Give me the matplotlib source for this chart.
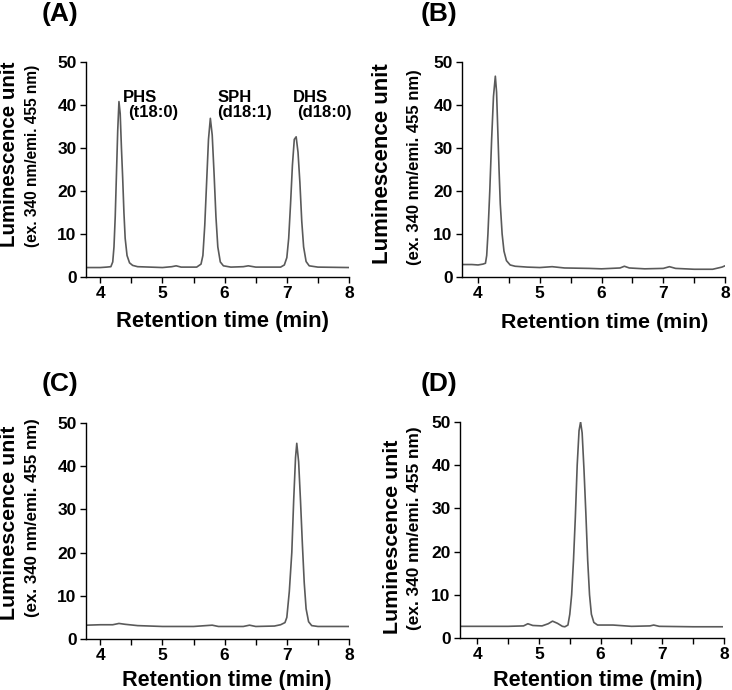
import numpy as np
import matplotlib
matplotlib.use('Agg')
import matplotlib.pyplot as plt
from matplotlib.ticker import MultipleLocator

plt.rcParams['font.family'] = ['Liberation Sans', 'DejaVu Sans']
plt.rcParams['font.weight'] = 'bold'

# chromatogram traces (retention time in min, luminescence)
time_a = [3.80, 4.00, 4.10, 4.17, 4.20, 4.22, 4.24, 4.26, 4.28, 4.30, 4.32, 4.34, 4.36, 4.38,
          4.40, 4.43, 4.47, 4.52, 4.60, 4.80, 5.00, 5.15, 5.22, 5.30, 5.55, 5.62, 5.65, 5.68,
          5.71, 5.74, 5.77, 5.80, 5.83, 5.86, 5.89, 5.93, 5.98, 6.10, 6.30, 6.38, 6.50, 6.90,
          6.96, 7.00, 7.03, 7.06, 7.09, 7.12, 7.15, 7.18, 7.21, 7.24, 7.27, 7.31, 7.36, 7.50, 8.00]
signal_a = [2.2, 2.2, 2.3, 2.4, 3.5, 7, 14, 24, 34, 40.8, 38, 30, 23, 15,
            9, 5, 3.3, 2.7, 2.4, 2.3, 2.2, 2.4, 2.6, 2.3, 2.3, 3.0, 5, 12,
            22, 32, 36.9, 33, 24, 14, 7, 3.5, 2.6, 2.3, 2.4, 2.6, 2.3, 2.3,
            2.8, 4.5, 9, 17, 26, 32, 32.6, 29, 22, 13, 7, 3.6, 2.6, 2.3, 2.2]

time_b = [3.74, 3.90, 4.00, 4.08, 4.12, 4.14, 4.16, 4.19, 4.22, 4.25, 4.28, 4.30, 4.32, 4.34,
          4.36, 4.39, 4.42, 4.46, 4.52, 4.60, 4.80, 5.00, 5.20, 5.40, 5.80, 6.00, 6.30, 6.37,
          6.45, 6.70, 7.00, 7.10, 7.20, 7.50, 7.80, 7.95, 8.00]
signal_b = [2.9, 2.9, 2.8, 3.0, 3.2, 5, 10, 20, 32, 42, 46.7, 43, 34, 25,
            17, 10, 6, 3.8, 2.8, 2.5, 2.3, 2.2, 2.4, 2.1, 2.0, 1.9, 2.1, 2.5,
            2.1, 1.9, 2.0, 2.4, 2.0, 1.8, 1.8, 2.3, 2.6]

time_c = [3.78, 4.00, 4.20, 4.30, 4.40, 4.60, 4.80, 5.00, 5.50, 5.80, 5.90, 6.30, 6.40, 6.50,
          6.80, 6.90, 6.97, 7.00, 7.04, 7.08, 7.11, 7.14, 7.16, 7.19, 7.22, 7.25, 7.28, 7.31,
          7.35, 7.40, 7.50, 8.00]
signal_c = [3.2, 3.3, 3.3, 3.6, 3.4, 3.1, 3.0, 2.9, 2.9, 3.2, 2.9, 2.9, 3.2, 2.9,
            3.0, 3.3, 3.8, 5, 11, 20, 32, 42, 45.3, 41, 32, 22, 13, 7,
            4, 3.1, 2.9, 2.9]

time_d = [3.72, 4.00, 4.50, 4.75, 4.82, 4.90, 5.05, 5.15, 5.22, 5.30, 5.38, 5.42, 5.47, 5.50,
          5.53, 5.56, 5.59, 5.62, 5.65, 5.675, 5.70, 5.73, 5.76, 5.79, 5.82, 5.85, 5.89, 5.95,
          6.20, 6.50, 6.80, 6.86, 6.95, 7.50, 7.97]
signal_d = [2.7, 2.7, 2.7, 2.8, 3.3, 2.9, 2.8, 3.3, 3.9, 3.4, 2.7, 2.6, 3.0, 5.5,
            10, 18, 28, 40, 48, 50, 47.5, 39, 29, 18, 10, 5.5, 3.6, 3.0,
            3.0, 2.7, 2.8, 3.0, 2.7, 2.6, 2.6]

panel_names = ['(A)', '(B)', '(C)', '(D)']
peak_names = ['PHS', 'SPH', 'DHS']
peak_species = ['(t18:0)', '(d18:1)', '(d18:0)']
peak_label_pos = [(4.36, 43.5), (5.88, 43.5), (7.10, 43.5)]
species_label_pos = [(4.44, 40.0), (5.88, 40.0), (7.17, 40.0)]

traces = [(time_a, signal_a), (time_b, signal_b), (time_c, signal_c), (time_d, signal_d)]

W, H = 732, 690
fig = plt.figure(figsize=(W / 100, H / 100), dpi=100)

# axes boxes in pixels: left, right, top, bottom, x start
boxes = [(86, 349, 62, 277, 3.77),
         (462, 725, 62, 277, 3.74),
         (86, 349, 423, 639, 3.77),
         (460, 724, 422, 638, 3.72)]
# label placement in pixels: letter (x, y), ylabel line1 (x, y, size), line2 (x, y, size), xlabel (x, baseline, size)
label_layout = [((60, 14), (10, 154, 14.8), (33, 156, 11.2), (223, 327, 15.8)),
                ((439, 14), (382, 164, 16.0), (414, 167, 12.0), (605, 328, 15.4)),
                ((60, 384), (10, 523, 15.4), (33, 518, 12.2), (227, 686, 15.6)),
                ((439, 384), (392, 537, 15.4), (415, 528, 12.4), (598, 686, 15.6))]

for i, (t, s) in enumerate(traces):
    left, right, top, bottom, x0 = boxes[i]
    ax = fig.add_axes([left / W, 1 - bottom / H, (right - left) / W, (bottom - top) / H])
    ax.plot(t, s, color='#5a5a5a', lw=1.2)
    ax.set_xlim(x0, 8.0)
    ax.set_ylim(0, 50)
    ax.spines['top'].set_visible(False)
    ax.spines['right'].set_visible(False)
    for sp in ['left', 'bottom']:
        ax.spines[sp].set_linewidth(1.0)
    ax.xaxis.set_major_locator(MultipleLocator(1))
    ax.xaxis.set_minor_locator(MultipleLocator(0.5))
    ax.yaxis.set_major_locator(MultipleLocator(10))
    ax.tick_params(which='both', direction='out', length=4.3, width=1.0, labelsize=12.5, pad=2.5)
    for lab in ax.get_xticklabels() + ax.get_yticklabels():
        lab.set_fontweight('bold')

    (lx, ly), (y1x, y1y, y1s), (y2x, y2y, y2s), (xx, xy, xs) = label_layout[i]
    fig.text(lx / W, 1 - ly / H, panel_names[i], fontsize=19, fontweight='bold', ha='center', va='center')
    fig.text(y1x / W, 1 - y1y / H, 'Luminescence unit', fontsize=y1s, fontweight='bold',
             rotation=90, ha='center', va='center')
    fig.text(y2x / W, 1 - y2y / H, '(ex. 340 nm/emi. 455 nm)', fontsize=y2s, fontweight='bold',
             rotation=90, ha='center', va='center')
    fig.text(xx / W, 1 - xy / H, 'Retention time (min)', fontsize=xs, fontweight='bold',
             ha='center', va='baseline')

    if i == 0:
        for name, (px, py) in zip(peak_names, peak_label_pos):
            ax.text(px, py, name, fontsize=12, fontweight='bold', ha='left', va='top')
        for name, (px, py) in zip(peak_species, species_label_pos):
            ax.text(px, py, name, fontsize=12, fontweight='bold', ha='left', va='top')

fig.savefig('out.png', dpi=100)
